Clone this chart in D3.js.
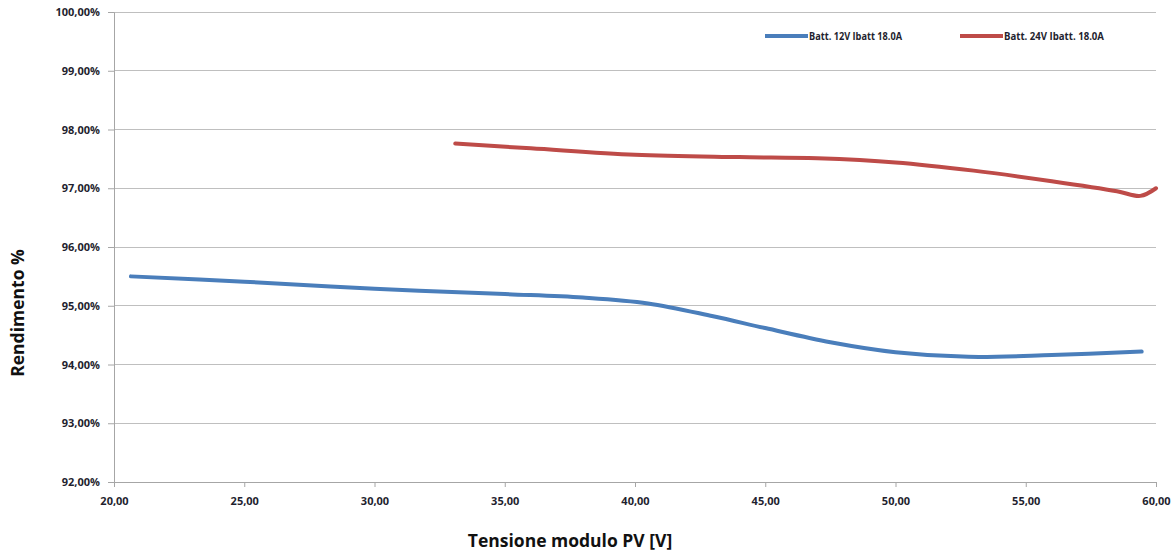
<!DOCTYPE html>
<html><head><meta charset="utf-8">
<script src="https://cdn.jsdelivr.net/npm/d3@7"></script>
<style>
body{margin:0;background:#fff;}
text{font-family:"Open Sans","DejaVu Sans",sans-serif;}
</style></head>
<body><svg id="c" width="1172" height="553"></svg>
<script>
const xTicks = [20,25,30,35,40,45,50,55,60];
const yTicks = [92,93,94,95,96,97,98,99,100];
const seriesNames = ["Batt. 12V Ibatt 18.0A","Batt. 24V Ibatt. 18.0A"];
const seriesColors = ["#4a7ebb","#be4b48"];
const blueX = [20.65,25,30,35,38,40.5,43,45,47.5,50,52.8,56,59.45];
const blueY = [95.50,95.41,95.29,95.20,95.14,95.04,94.82,94.62,94.38,94.21,94.13,94.16,94.22];
const redX = [33.1,36,40,44,47,50,53,56,58.5,59.4,60];
const redY = [97.76,97.68,97.57,97.53,97.51,97.44,97.30,97.12,96.95,96.87,97.00];

const loc = d3.formatLocale({decimal:",",thousands:".",grouping:[3],currency:["","€"]});
const f2 = loc.format(".2f");

const svg = d3.select("#c");
const x = d3.scaleLinear().domain([20,60]).range([114,1156]);
const y = d3.scaleLinear().domain([92,100]).range([482,12]);

// grid
svg.append("g").selectAll("line").data(yTicks).join("line")
  .attr("x1",114).attr("x2",1156).attr("y1",d=>y(d)).attr("y2",d=>y(d))
  .attr("stroke","#bfbfbf").attr("stroke-width",1).attr("shape-rendering","crispEdges");

// y axis
const ya = svg.append("g").attr("transform","translate(114,0)")
  .call(d3.axisLeft(y).tickValues(yTicks).tickSize(6).tickPadding(8).tickFormat(d=>f2(d)+"%"));
ya.select(".domain").attr("stroke","#a6a6a6");
ya.selectAll(".tick line").attr("stroke","#a6a6a6");
ya.selectAll("text").attr("font-size","11px").attr("font-weight","bold").attr("fill","#1f1f2f");

// x axis
const xa = svg.append("g").attr("transform","translate(0,482)")
  .call(d3.axisBottom(x).tickValues(xTicks).tickSize(5).tickPadding(10).tickFormat(d=>f2(d)));
xa.select(".domain").attr("stroke","#a6a6a6");
xa.selectAll(".tick line").attr("stroke","#a6a6a6");
xa.selectAll("text").attr("font-size","11px").attr("font-weight","bold").attr("fill","#1f1f2f");

// lines
const line = d3.line().x(d=>x(d[0])).y(d=>y(d[1])).curve(d3.curveCatmullRom.alpha(0.5));
const data = [d3.zip(blueX,blueY), d3.zip(redX,redY)];
svg.append("g").selectAll("path").data(data).join("path")
  .attr("d",line).attr("fill","none").attr("stroke",(d,i)=>seriesColors[i])
  .attr("stroke-width",4).attr("stroke-linecap","round");

// legend
const legX = [765,960];
const legW = [93,100];
const lg = svg.append("g").selectAll("g").data(seriesNames).join("g")
  .attr("transform",(d,i)=>`translate(${legX[i]},36)`);
lg.append("line").attr("x1",0).attr("x2",43).attr("y1",0).attr("y2",0)
  .attr("stroke",(d,i)=>seriesColors[i]).attr("stroke-width",4);
lg.append("text").attr("x",44).attr("y",4).text(d=>d)
  .attr("textLength",(d,i)=>legW[i]).attr("lengthAdjust","spacingAndGlyphs")
  .attr("font-size","11px").attr("font-weight","bold").attr("fill","#1f1f2f");

// titles
svg.append("text").attr("transform","translate(24,313) rotate(-90)").attr("text-anchor","middle")
  .attr("font-size","17.5px").attr("font-weight","bold").attr("fill","#111").text("Rendimento %");
svg.append("text").attr("x",570).attr("y",547).attr("text-anchor","middle")
  .attr("font-size","17.5px").attr("font-weight","bold").attr("fill","#111").text("Tensione modulo PV [V]");
</script></body></html>
